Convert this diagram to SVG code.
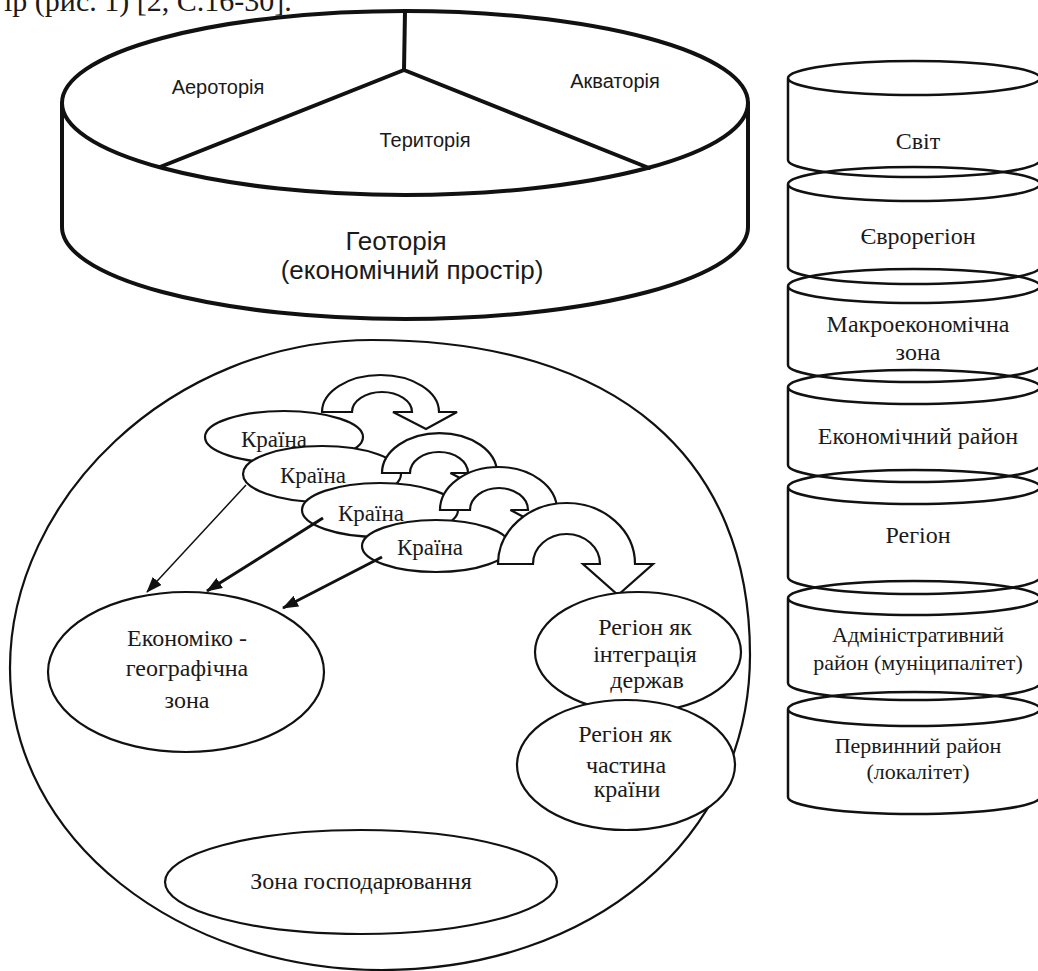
<svg xmlns="http://www.w3.org/2000/svg" width="1038" height="971" viewBox="0 0 1038 971">
  <defs>
    <style>
      .thick{fill:none;stroke:#111;stroke-width:4;stroke-linecap:round;stroke-linejoin:round}
      .cyl{fill:none;stroke:#111;stroke-width:2.5;stroke-linejoin:round}
      .node{fill:#fff;stroke:#111;stroke-width:2.2}
      .outline{fill:none;stroke:#111;stroke-width:2.2}
      .uturn{fill:#fff;stroke:#111;stroke-width:2.2;stroke-linejoin:miter}
      .serif{font-family:"Liberation Serif","Times New Roman",serif;font-size:24px;fill:#1a1a1a;text-anchor:middle}
      .small{font-size:23px}
      .narrow{font-size:22px}
      .sans{font-family:"Liberation Sans",Arial,sans-serif;font-size:20px;fill:#1a1a1a;text-anchor:middle}
      .big{font-size:26px}
      .conn{fill:none;stroke:#111;stroke-width:3}
      .thin{stroke-width:1.5}
    </style>
    <marker id="ah" viewBox="0 0 16 12" refX="15" refY="6" markerWidth="16" markerHeight="12" markerUnits="userSpaceOnUse" orient="auto">
      <path d="M0 0 L16 6 L0 12 Z" fill="#111"/>
    </marker>
  </defs>
  <rect width="1038" height="971" fill="#fff"/>

  <text x="4" y="11" style="font-family:'Liberation Serif','Times New Roman',serif;font-size:30px;fill:#1a1a1a">ір (рис. 1) [2, С.16-30].</text>

  <!-- Geotoria cylinder -->
  <g id="geotoria">
    <ellipse cx="405" cy="103" rx="343" ry="92" class="thick"/>
    <path d="M62 103 L62 227 A343 92 0 0 0 748 227 L748 103" class="thick"/>
    <path d="M405 11 L404 70 M160 167 L404 70 L649 168" class="thick"/>
    <text x="218" y="94" class="sans">Аероторія</text>
    <text x="615" y="88" class="sans">Акваторія</text>
    <text x="425" y="147" class="sans">Територія</text>
    <text x="396" y="250" class="sans big">Геоторія</text>
    <text x="412" y="279" class="sans big">(економічний простір)</text>
  </g>

  <!-- Right column of levels -->
  <g id="svit">
    <path d="M788 78 A126 17 0 1 1 1040 78 A126 17 0 1 1 788 78 M788 78 L788 160 A126 17 0 0 0 1040 160 L1040 78" class="cyl"/>
    <text x="918" y="149" class="serif">Світ</text>
  </g>
  <g id="evroregion">
    <path d="M788 184 A126 17 0 1 1 1040 184 A126 17 0 1 1 788 184 M788 184 L788 267 A126 17 0 0 0 1040 267 L1040 184" class="cyl"/>
    <text x="918" y="244" class="serif">Єврорегіон</text>
  </g>
  <g id="makrozona">
    <path d="M788 286 A126 17 0 1 1 1040 286 A126 17 0 1 1 788 286 M788 286 L788 365 A126 17 0 0 0 1040 365 L1040 286" class="cyl"/>
    <text x="918" y="332" class="serif">Макроекономічна</text>
    <text x="918" y="360" class="serif">зона</text>
  </g>
  <g id="ekonom-raion">
    <path d="M788 387 A126 17 0 1 1 1040 387 A126 17 0 1 1 788 387 M788 387 L788 465 A126 17 0 0 0 1040 465 L1040 387" class="cyl"/>
    <text x="918" y="444" class="serif">Економічний район</text>
  </g>
  <g id="region-level">
    <path d="M788 487 A126 17 0 1 1 1040 487 A126 17 0 1 1 788 487 M788 487 L788 577 A126 17 0 0 0 1040 577 L1040 487" class="cyl"/>
    <text x="918" y="543" class="serif">Регіон</text>
  </g>
  <g id="admin-raion">
    <path d="M788 598 A126 17 0 1 1 1040 598 A126 17 0 1 1 788 598 M788 598 L788 683 A126 17 0 0 0 1040 683 L1040 598" class="cyl"/>
    <text x="918" y="642" class="serif narrow">Адміністративний</text>
    <text x="918" y="670" class="serif narrow">район (муніципалітет)</text>
  </g>
  <g id="pervynnyi-raion">
    <path d="M788 709 A126 17 0 1 1 1040 709 A126 17 0 1 1 788 709 M788 709 L788 797 A126 17 0 0 0 1040 797 L1040 709" class="cyl"/>
    <text x="918" y="753" class="serif narrow">Первинний район</text>
    <text x="918" y="779" class="serif narrow">(локалітет)</text>
  </g>

  <!-- Big ellipse -->
  <g id="big-area">
    <path d="M372 340 C620 340 750 460 750 655 C750 840 590 970 382 970 C180 970 10 840 10 668 C10 500 170 340 372 340 Z" class="outline"/>
  </g>

  <g id="ekon-geo-zona">
    <ellipse cx="186" cy="672" rx="138" ry="80" class="node"/>
    <text x="187" y="646" class="serif">Економіко -</text>
    <text x="187" y="676" class="serif">географічна</text>
    <text x="187" y="708" class="serif">зона</text>
  </g>

  <g id="kraina-1">
    <ellipse cx="284" cy="437" rx="79" ry="26" class="node"/>
    <text x="274" y="447" class="serif small">Країна</text>
  </g>
  <g id="kraina-2">
    <ellipse cx="322" cy="474" rx="79" ry="28" class="node"/>
    <text x="313" y="483" class="serif small">Країна</text>
  </g>
  <g id="uturn-1">
    <path d="M322 412 A58.5 37 0 0 1 439 412 L457 412 L426 429 L393 412 L412 412 A30 20 0 0 0 352 412 Z" class="uturn"/>
  </g>
  <g id="uturn-2">
    <path d="M382 473 A57.5 40 0 0 1 497 473 L514.5 473 L482.5 490 L450.5 473 L468 473 A29 21 0 0 0 410 473 Z" class="uturn"/>
  </g>
  <g id="kraina-3">
    <ellipse cx="380" cy="510" rx="78" ry="27" class="node"/>
    <text x="371" y="521" class="serif small">Країна</text>
  </g>
  <g id="uturn-3">
    <path d="M440 510 A58.5 43 0 0 1 557 510 L574.5 510 L542.5 527 L510.5 510 L528 510 A29 22 0 0 0 470 510 Z" class="uturn"/>
  </g>
  <g id="kraina-4">
    <ellipse cx="436" cy="546" rx="74" ry="26" class="node"/>
    <text x="430" y="555" class="serif small">Країна</text>
  </g>
  <g id="uturn-4">
    <path d="M498 564 A68.5 61 0 0 1 635 564 L653 564 L618 595 L583 564 L600 564 A33.5 30 0 0 0 533 564 Z" class="uturn"/>
  </g>

  <g id="region-integration">
    <ellipse cx="638" cy="652" rx="103" ry="60" class="node"/>
    <text x="645" y="635" class="serif">Регіон як</text>
    <text x="645" y="662" class="serif">інтеграція</text>
    <text x="647" y="688" class="serif">держав</text>
  </g>
  <g id="region-part">
    <ellipse cx="626" cy="765" rx="109" ry="65" class="node"/>
    <text x="625" y="742" class="serif">Регіон як</text>
    <text x="626" y="773" class="serif">частина</text>
    <text x="627" y="797" class="serif">країни</text>
  </g>

  <g id="zona-gospodaryuvannya">
    <ellipse cx="361" cy="882" rx="196" ry="52" class="node"/>
    <text x="361" y="889" class="serif">Зона господарювання</text>
  </g>

  <g id="connectors">
    <line x1="246" y1="485" x2="147" y2="592" class="conn thin" marker-end="url(#ah)"/>
    <line x1="323" y1="518" x2="207" y2="591" class="conn" marker-end="url(#ah)"/>
    <line x1="382" y1="557" x2="283" y2="608" class="conn" marker-end="url(#ah)"/>
  </g>
</svg>
